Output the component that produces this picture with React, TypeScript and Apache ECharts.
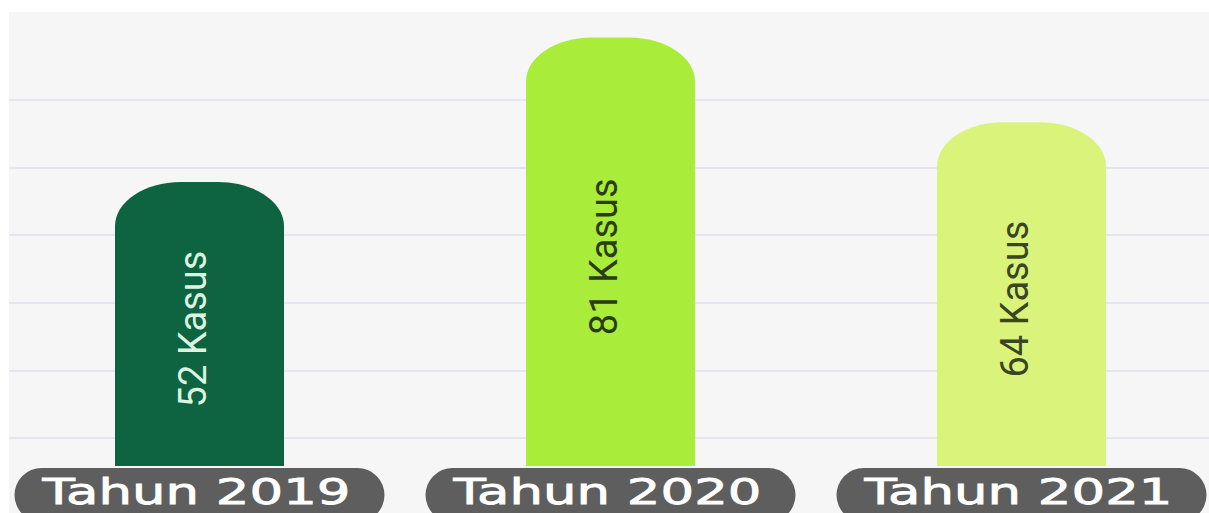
import React, { useEffect, useRef } from "react";
import * as echarts from "echarts";

const categories = ["Tahun 2019", "Tahun 2020", "Tahun 2021"];
const cases = [52, 81, 64];
const unitLabel = "Kasus";
const barColors = ["#0e6441", "#a9ec3a", "#daf37b"];
const labelColors = ["#dcf5e2", "#2c3c12", "#3a4622"];

export default function App() {
  const ref = useRef<HTMLDivElement>(null);
  useEffect(() => {
    if (!ref.current) return;
    const chart = echarts.init(ref.current, undefined, { renderer: "svg" });
    const option: any = {
      animation: false,
      backgroundColor: "transparent",
      grid: [
        { left: 0, right: 0, top: 20.6, bottom: 47, containLabel: false },
        { left: 0, right: 0, top: 88, bottom: 75, containLabel: false },
      ],
      xAxis: [
        {
          type: "category",
          gridIndex: 0,
          data: categories,
          boundaryGap: true,
          axisLine: { show: false },
          axisTick: { show: false },
          axisLabel: { show: false },
          splitLine: { show: false },
        },
        {
          type: "value",
          gridIndex: 1,
          show: false,
        },
      ],
      yAxis: [
        {
          type: "value",
          gridIndex: 0,
          min: -5,
          max: 82,
          show: false,
          splitLine: { show: false },
        },
        {
          type: "value",
          gridIndex: 1,
          min: 0,
          max: 5,
          interval: 1,
          axisLine: { show: false },
          axisTick: { show: false },
          axisLabel: { show: false },
          splitLine: { show: true, lineStyle: { color: "#e5e5ef", width: 2 } },
        },
      ],
      series: [
        {
          type: "custom",
          xAxisIndex: 0,
          yAxisIndex: 0,
          clip: false,
          data: cases.map((v, i) => [i, v]),
          encode: { x: 0, y: 1 },
          renderItem: (params: any, api: any) => {
            const i = params.dataIndex;
            const v = api.value(1);
            const pt = api.coord([api.value(0), v]);
            const cx = pt[0];
            const yT = pt[1];
            const cs = params.coordSys;
            const yB = cs.y + cs.height;
            const half = 84.5;
            const rx = 66;
            const ry = 44;
            const k = 0.5523;
            const x0 = cx - half;
            const x1 = cx + half;
            const d =
              `M${x0} ${yB}L${x0} ${yT + ry}` +
              `C${x0} ${yT + ry * (1 - k)} ${x0 + rx * (1 - k)} ${yT} ${x0 + rx} ${yT}` +
              `L${x1 - rx} ${yT}` +
              `C${x1 - rx * (1 - k)} ${yT} ${x1} ${yT + ry * (1 - k)} ${x1} ${yT + ry}` +
              `L${x1} ${yB}Z`;
            return {
              type: "group",
              children: [
                {
                  type: "path",
                  shape: { pathData: d },
                  style: { fill: barColors[i] },
                },
                {
                  type: "text",
                  x: cx - 7,
                  y: (yT + yB) / 2 + 5,
                  rotation: Math.PI / 2,
                  style: {
                    text: `${cases[i]} ${unitLabel}`,
                    x: 0,
                    y: 0,
                    fill: labelColors[i],
                    fontSize: 38,
                    fontFamily: "Roboto",
                    fontWeight: 400,
                    align: "center",
                    verticalAlign: "middle",
                  },
                },
                {
                  type: "rect",
                  shape: { x: cx - 185, y: yB + 2, width: 370, height: 54, r: 27 },
                  style: { fill: "#5e5e5e" },
                },
                {
                  type: "text",
                  x: cx - 3,
                  y: yB + 26,
                  scaleX: 1.47,
                  style: {
                    text: categories[i],
                    x: 0,
                    y: 0,
                    fill: "#ffffff",
                    stroke: "#ffffff",
                    lineWidth: 0.8,
                    fontSize: 36,
                    lineHeight: 30,
                    fontFamily: "DejaVu Sans",
                    fontWeight: 400,
                    align: "center",
                    verticalAlign: "middle",
                  },
                },
              ],
            };
          },
        },
      ],
    };
    chart.setOption(option);
    return () => chart.dispose();
  }, []);
  return (
    <div
      style={{
        position: "absolute",
        left: 9,
        top: 12,
        width: 1200,
        height: 501,
        overflow: "hidden",
        background: "#f6f6f6",
      }}
    >
      <div
        ref={ref}
        style={{ position: "absolute", left: -15.3, top: 0, width: 1233, height: 501 }}
      />
    </div>
  );
}
